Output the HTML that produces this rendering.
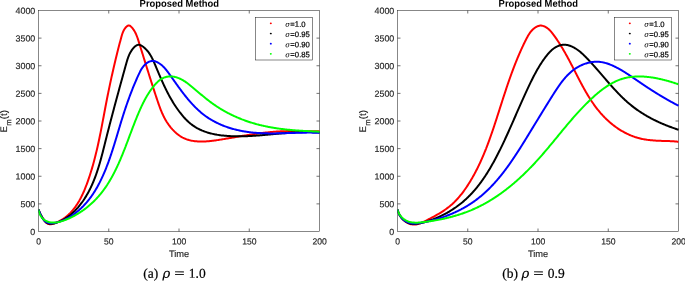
<!DOCTYPE html>
<html><head><meta charset="utf-8"><title>Proposed Method</title>
<style>
html,body{margin:0;padding:0;background:#fff}
svg{display:block}
text{font-family:"Liberation Sans",sans-serif;fill:#262626}
.tk{font-size:8.9px}
.lb{font-size:9.6px}
.tt{font-size:9.85px;font-weight:bold;fill:#000}
.tk,.lb{stroke:#262626;stroke-width:0.15px}
.lg{font-size:7.9px;fill:#000;stroke:#000;stroke-width:0.2px}
.sg{font-family:"DejaVu Serif",serif;font-style:italic;font-size:7.4px;stroke-width:0.02px}
.cp{font-family:"Liberation Serif",serif;font-size:13.5px;fill:#000;stroke:#000;stroke-width:0.2px}
.rho{font-family:"DejaVu Serif",serif;font-style:italic;font-size:13.2px;fill:#000;stroke:#000;stroke-width:0.15px}
.cv{fill:none;stroke-width:2;stroke-linejoin:round;stroke-linecap:butt}
</style></head><body>

<svg width="685" height="281" viewBox="0 0 685 281">

<rect width="685" height="281" fill="#fff"/>
<g>

<defs><clipPath id="cl"><rect x="38.5" y="10.5" width="282.0" height="221.0"/></clipPath><clipPath id="cr"><rect x="397.5" y="10.5" width="282.0" height="221.0"/></clipPath></defs>

<rect x="38.5" y="10.5" width="281.0" height="221.0" fill="#fff" stroke="#262626" stroke-width="0.55"/>
<path d="M108.75 231.5 v-3.0 M108.75 10.5 v3.0 M179.00 231.5 v-3.0 M179.00 10.5 v3.0 M249.25 231.5 v-3.0 M249.25 10.5 v3.0 M38.5 203.88 h3.0 M319.5 203.88 h-3.0 M38.5 176.25 h3.0 M319.5 176.25 h-3.0 M38.5 148.62 h3.0 M319.5 148.62 h-3.0 M38.5 121.00 h3.0 M319.5 121.00 h-3.0 M38.5 93.38 h3.0 M319.5 93.38 h-3.0 M38.5 65.75 h3.0 M319.5 65.75 h-3.0 M38.5 38.12 h3.0 M319.5 38.12 h-3.0" stroke="#262626" stroke-width="0.65" fill="none"/>
<text class="tk" transform="translate(38.60 244.50) matrix(0.97 0.002 0 1 0 0)" text-anchor="middle">0</text>
<text class="tk" transform="translate(108.85 244.50) matrix(0.97 0.002 0 1 0 0)" text-anchor="middle">50</text>
<text class="tk" transform="translate(179.10 244.50) matrix(0.97 0.002 0 1 0 0)" text-anchor="middle">100</text>
<text class="tk" transform="translate(249.35 244.50) matrix(0.97 0.002 0 1 0 0)" text-anchor="middle">150</text>
<text class="tk" transform="translate(319.60 244.50) matrix(0.97 0.002 0 1 0 0)" text-anchor="middle">200</text>
<text class="tk" transform="translate(35.30 234.90) matrix(1.0 0.002 0 1 0 0)" text-anchor="end">0</text>
<text class="tk" transform="translate(35.30 207.28) matrix(1.0 0.002 0 1 0 0)" text-anchor="end">500</text>
<text class="tk" transform="translate(35.30 179.65) matrix(1.0 0.002 0 1 0 0)" text-anchor="end">1000</text>
<text class="tk" transform="translate(35.30 152.03) matrix(1.0 0.002 0 1 0 0)" text-anchor="end">1500</text>
<text class="tk" transform="translate(35.30 124.40) matrix(1.0 0.002 0 1 0 0)" text-anchor="end">2000</text>
<text class="tk" transform="translate(35.30 96.78) matrix(1.0 0.002 0 1 0 0)" text-anchor="end">2500</text>
<text class="tk" transform="translate(35.30 69.15) matrix(1.0 0.002 0 1 0 0)" text-anchor="end">3000</text>
<text class="tk" transform="translate(35.30 41.52) matrix(1.0 0.002 0 1 0 0)" text-anchor="end">3500</text>
<text class="tk" transform="translate(35.30 13.90) matrix(1.0 0.002 0 1 0 0)" text-anchor="end">4000</text>
<text class="lb" transform="translate(179.10 257.00) matrix(1.0 0.002 0 1 0 0)" text-anchor="middle" style="font-size:9.3px">Time</text>
<text class="tt" transform="translate(179.30 6.80) matrix(0.955 0.002 0 1 0 0)" text-anchor="middle">Proposed Method</text>
<text class="lb" transform="translate(7.00 132.6) rotate(-90) matrix(1.0 0.002 0 1 0 0)">E<tspan dx="0.4" dy="4.3" font-size="7.9">m</tspan><tspan dy="-4.3">(t)</tspan></text>
<g clip-path="url(#cl)">
<path class="cv" stroke="#ff0000" d="M38.50 209.60 L38.89 210.65 L39.27 211.62 L39.67 212.52 L40.08 213.38 L40.50 214.20 L40.94 215.01 L41.41 215.83 L41.91 216.66 L42.44 217.53 L43.01 218.46 L43.63 219.43 L44.28 220.40 L44.98 221.34 L45.72 222.19 L46.51 222.93 L47.34 223.51 L48.22 223.91 L49.14 224.14 L50.09 224.24 L51.06 224.21 L52.05 224.07 L53.05 223.84 L54.05 223.53 L55.04 223.17 L56.03 222.78 L56.99 222.36 L57.94 221.92 L58.87 221.46 L59.78 220.98 L60.67 220.48 L61.55 219.96 L62.40 219.43 L63.24 218.88 L64.07 218.30 L64.88 217.72 L65.67 217.11 L66.44 216.49 L67.21 215.85 L67.95 215.20 L68.68 214.53 L69.39 213.84 L70.10 213.14 L70.78 212.43 L71.45 211.70 L72.11 210.96 L72.76 210.21 L73.39 209.44 L74.01 208.66 L74.61 207.87 L75.20 207.06 L75.78 206.25 L76.35 205.42 L76.91 204.59 L77.46 203.74 L77.99 202.89 L78.51 202.02 L79.03 201.15 L79.53 200.26 L80.02 199.37 L80.50 198.47 L80.98 197.57 L81.44 196.65 L81.89 195.73 L82.34 194.80 L82.78 193.87 L83.20 192.93 L83.62 191.99 L84.04 191.04 L84.44 190.08 L84.84 189.13 L85.23 188.16 L85.61 187.20 L85.99 186.23 L86.36 185.26 L86.73 184.29 L87.09 183.31 L87.44 182.34 L87.79 181.36 L88.13 180.38 L88.47 179.40 L88.81 178.42 L89.14 177.44 L89.46 176.46 L89.78 175.48 L90.10 174.50 L90.41 173.52 L90.72 172.54 L91.02 171.56 L91.32 170.58 L91.62 169.60 L91.91 168.62 L92.20 167.63 L92.49 166.65 L92.77 165.67 L93.05 164.68 L93.32 163.70 L93.59 162.72 L93.86 161.73 L94.12 160.75 L94.38 159.76 L94.64 158.78 L94.89 157.79 L95.15 156.81 L95.39 155.82 L95.64 154.83 L95.88 153.85 L96.12 152.86 L96.36 151.87 L96.59 150.89 L96.83 149.90 L97.05 148.91 L97.28 147.92 L97.51 146.93 L97.73 145.95 L97.95 144.96 L98.17 143.97 L98.38 142.98 L98.60 141.99 L98.81 141.00 L99.02 140.01 L99.23 139.02 L99.44 138.03 L99.64 137.04 L99.84 136.05 L100.05 135.06 L100.25 134.07 L100.45 133.08 L100.64 132.09 L100.84 131.09 L101.04 130.10 L101.23 129.11 L101.43 128.12 L101.62 127.13 L101.81 126.13 L102.00 125.14 L102.19 124.15 L102.38 123.16 L102.57 122.16 L102.76 121.17 L102.95 120.18 L103.13 119.18 L103.32 118.19 L103.51 117.20 L103.70 116.20 L103.88 115.21 L104.07 114.22 L104.26 113.22 L104.44 112.23 L104.63 111.23 L104.82 110.24 L105.01 109.25 L105.19 108.25 L105.38 107.26 L105.57 106.26 L105.76 105.27 L105.95 104.27 L106.14 103.28 L106.34 102.28 L106.53 101.29 L106.72 100.29 L106.92 99.30 L107.11 98.30 L107.31 97.31 L107.51 96.31 L107.71 95.32 L107.91 94.32 L108.11 93.33 L108.31 92.33 L108.52 91.33 L108.72 90.34 L108.93 89.34 L109.13 88.35 L109.34 87.35 L109.55 86.36 L109.76 85.36 L109.97 84.37 L110.18 83.37 L110.39 82.38 L110.61 81.38 L110.82 80.38 L111.04 79.39 L111.26 78.39 L111.47 77.40 L111.69 76.40 L111.91 75.41 L112.14 74.41 L112.36 73.42 L112.58 72.42 L112.81 71.43 L113.04 70.43 L113.26 69.44 L113.49 68.44 L113.72 67.45 L113.95 66.45 L114.18 65.46 L114.42 64.46 L114.65 63.47 L114.89 62.48 L115.13 61.48 L115.36 60.49 L115.60 59.49 L115.84 58.50 L116.08 57.51 L116.33 56.51 L116.57 55.52 L116.82 54.53 L117.06 53.53 L117.31 52.54 L117.56 51.55 L117.81 50.56 L118.06 49.56 L118.31 48.57 L118.57 47.58 L118.82 46.59 L119.08 45.59 L119.34 44.60 L119.60 43.61 L119.86 42.62 L120.12 41.63 L120.38 40.64 L120.64 39.65 L120.91 38.66 L121.17 37.67 L121.44 36.68 L121.72 35.69 L122.01 34.71 L122.33 33.74 L122.67 32.79 L123.05 31.84 L123.47 30.92 L123.94 30.02 L124.46 29.15 L125.04 28.30 L125.70 27.48 L126.42 26.70 L127.21 26.02 L128.04 25.55 L128.88 25.41 L129.70 25.65 L130.50 26.18 L131.27 26.88 L131.99 27.66 L132.66 28.46 L133.28 29.28 L133.87 30.13 L134.41 30.99 L134.91 31.88 L135.39 32.78 L135.83 33.69 L136.24 34.62 L136.63 35.56 L137.00 36.51 L137.35 37.47 L137.69 38.44 L138.02 39.41 L138.33 40.39 L138.64 41.37 L138.95 42.34 L139.25 43.32 L139.56 44.30 L139.87 45.28 L140.17 46.26 L140.48 47.24 L140.78 48.21 L141.09 49.19 L141.39 50.17 L141.69 51.14 L142.00 52.12 L142.30 53.09 L142.61 54.07 L142.91 55.04 L143.21 56.02 L143.51 56.99 L143.82 57.97 L144.12 58.94 L144.42 59.91 L144.73 60.89 L145.03 61.86 L145.33 62.83 L145.63 63.80 L145.94 64.77 L146.24 65.75 L146.54 66.72 L146.85 67.69 L147.15 68.66 L147.45 69.63 L147.76 70.60 L148.06 71.57 L148.37 72.54 L148.67 73.50 L148.98 74.47 L149.28 75.44 L149.59 76.41 L149.89 77.38 L150.20 78.34 L150.51 79.31 L150.81 80.28 L151.12 81.24 L151.43 82.21 L151.74 83.17 L152.05 84.14 L152.36 85.10 L152.67 86.07 L152.98 87.03 L153.29 88.00 L153.61 88.96 L153.92 89.92 L154.23 90.89 L154.55 91.85 L154.87 92.81 L155.18 93.77 L155.50 94.73 L155.82 95.70 L156.14 96.66 L156.46 97.62 L156.78 98.58 L157.10 99.54 L157.42 100.50 L157.75 101.46 L158.07 102.42 L158.40 103.37 L158.73 104.33 L159.07 105.28 L159.41 106.24 L159.76 107.19 L160.11 108.14 L160.48 109.09 L160.85 110.03 L161.22 110.97 L161.61 111.91 L162.01 112.84 L162.42 113.78 L162.85 114.70 L163.28 115.62 L163.73 116.54 L164.20 117.45 L164.68 118.36 L165.17 119.26 L165.68 120.16 L166.21 121.05 L166.76 121.94 L167.33 122.81 L167.91 123.68 L168.51 124.53 L169.12 125.38 L169.75 126.21 L170.40 127.03 L171.06 127.84 L171.74 128.63 L172.43 129.41 L173.14 130.16 L173.86 130.90 L174.59 131.62 L175.34 132.32 L176.10 133.00 L176.88 133.65 L177.67 134.29 L178.47 134.89 L179.29 135.48 L180.11 136.03 L180.95 136.56 L181.80 137.06 L182.66 137.53 L183.54 137.97 L184.42 138.38 L185.32 138.76 L186.22 139.12 L187.13 139.44 L188.06 139.74 L188.99 140.02 L189.93 140.27 L190.88 140.49 L191.84 140.69 L192.81 140.87 L193.78 141.02 L194.76 141.15 L195.74 141.27 L196.74 141.36 L197.74 141.43 L198.74 141.49 L199.75 141.52 L200.76 141.54 L201.78 141.55 L202.81 141.53 L203.83 141.51 L204.86 141.46 L205.90 141.41 L206.93 141.34 L207.97 141.26 L209.01 141.17 L210.05 141.07 L211.10 140.96 L212.14 140.84 L213.19 140.71 L214.23 140.57 L215.28 140.43 L216.33 140.28 L217.37 140.12 L218.41 139.96 L219.46 139.80 L220.50 139.63 L221.54 139.46 L222.57 139.29 L223.60 139.12 L224.63 138.95 L225.66 138.78 L226.69 138.60 L227.71 138.43 L228.73 138.26 L229.74 138.08 L230.76 137.91 L231.77 137.74 L232.78 137.56 L233.79 137.39 L234.79 137.22 L235.80 137.04 L236.80 136.87 L237.80 136.70 L238.80 136.53 L239.79 136.36 L240.79 136.20 L241.78 136.03 L242.78 135.86 L243.77 135.70 L244.76 135.54 L245.75 135.37 L246.74 135.21 L247.73 135.06 L248.71 134.90 L249.70 134.74 L250.69 134.59 L251.68 134.44 L252.66 134.29 L253.65 134.14 L254.63 134.00 L255.62 133.86 L256.61 133.72 L257.59 133.58 L258.58 133.45 L259.57 133.31 L260.55 133.18 L261.54 133.06 L262.53 132.93 L263.52 132.81 L264.51 132.70 L265.50 132.58 L266.50 132.47 L267.49 132.37 L268.49 132.26 L269.49 132.17 L270.48 132.07 L271.48 131.98 L272.49 131.89 L273.49 131.81 L274.50 131.73 L275.50 131.65 L276.51 131.58 L277.53 131.51 L278.54 131.45 L279.56 131.39 L280.58 131.34 L281.60 131.29 L282.62 131.25 L283.65 131.21 L284.68 131.18 L285.71 131.15 L286.75 131.12 L287.78 131.10 L288.82 131.09 L289.86 131.07 L290.90 131.07 L291.94 131.06 L292.99 131.06 L294.03 131.06 L295.07 131.06 L296.11 131.06 L297.16 131.07 L298.20 131.08 L299.24 131.09 L300.28 131.10 L301.31 131.11 L302.35 131.12 L303.38 131.14 L304.41 131.15 L305.44 131.16 L306.47 131.18 L307.49 131.19 L308.51 131.20 L309.52 131.21 L310.53 131.22 L311.54 131.23 L312.54 131.24 L313.54 131.25 L314.53 131.25 L315.52 131.25 L316.50 131.25 L317.48 131.24 L318.45 131.24 L319.41 131.23"/>
<path class="cv" stroke="#000000" d="M38.51 209.61 L38.77 210.24 L39.07 210.95 L39.39 211.72 L39.74 212.54 L40.12 213.41 L40.53 214.31 L40.97 215.23 L41.44 216.15 L41.93 217.07 L42.46 217.97 L43.02 218.85 L43.60 219.69 L44.22 220.48 L44.87 221.20 L45.55 221.85 L46.26 222.42 L47.00 222.90 L47.78 223.26 L48.58 223.52 L49.41 223.69 L50.26 223.77 L51.12 223.78 L52.00 223.72 L52.89 223.59 L53.78 223.42 L54.67 223.20 L55.55 222.95 L56.43 222.68 L57.30 222.39 L58.16 222.07 L59.01 221.74 L59.86 221.38 L60.69 221.01 L61.51 220.62 L62.33 220.21 L63.13 219.79 L63.93 219.34 L64.71 218.88 L65.49 218.41 L66.25 217.92 L67.01 217.41 L67.76 216.89 L68.50 216.35 L69.23 215.80 L69.95 215.24 L70.66 214.66 L71.37 214.07 L72.06 213.46 L72.74 212.85 L73.42 212.22 L74.08 211.58 L74.74 210.94 L75.39 210.28 L76.03 209.61 L76.66 208.93 L77.28 208.24 L77.89 207.55 L78.49 206.84 L79.08 206.13 L79.67 205.41 L80.24 204.69 L80.81 203.96 L81.37 203.22 L81.92 202.47 L82.45 201.72 L82.99 200.97 L83.51 200.21 L84.02 199.45 L84.52 198.68 L85.02 197.91 L85.51 197.14 L85.99 196.36 L86.46 195.58 L86.92 194.79 L87.37 194.00 L87.82 193.21 L88.26 192.41 L88.69 191.61 L89.12 190.81 L89.53 190.00 L89.94 189.19 L90.35 188.37 L90.74 187.56 L91.13 186.74 L91.52 185.91 L91.89 185.09 L92.26 184.26 L92.63 183.43 L92.99 182.59 L93.34 181.76 L93.68 180.92 L94.02 180.07 L94.36 179.23 L94.69 178.38 L95.01 177.53 L95.33 176.68 L95.65 175.83 L95.96 174.97 L96.26 174.11 L96.56 173.25 L96.86 172.39 L97.15 171.52 L97.44 170.66 L97.72 169.79 L98.00 168.92 L98.27 168.05 L98.54 167.17 L98.81 166.30 L99.08 165.42 L99.34 164.54 L99.60 163.67 L99.85 162.79 L100.10 161.90 L100.35 161.02 L100.60 160.14 L100.84 159.25 L101.09 158.37 L101.33 157.48 L101.56 156.60 L101.80 155.71 L102.03 154.82 L102.27 153.93 L102.50 153.04 L102.73 152.15 L102.95 151.26 L103.18 150.37 L103.41 149.48 L103.63 148.59 L103.85 147.70 L104.08 146.81 L104.30 145.91 L104.52 145.02 L104.74 144.13 L104.97 143.24 L105.19 142.35 L105.41 141.46 L105.63 140.57 L105.85 139.68 L106.08 138.79 L106.30 137.90 L106.53 137.01 L106.75 136.13 L106.97 135.24 L107.20 134.35 L107.42 133.47 L107.65 132.58 L107.88 131.69 L108.10 130.81 L108.33 129.92 L108.56 129.04 L108.79 128.15 L109.01 127.27 L109.24 126.39 L109.47 125.50 L109.70 124.62 L109.93 123.74 L110.16 122.85 L110.39 121.97 L110.62 121.09 L110.85 120.21 L111.08 119.32 L111.32 118.44 L111.55 117.56 L111.78 116.68 L112.01 115.80 L112.25 114.92 L112.48 114.04 L112.71 113.15 L112.95 112.27 L113.18 111.39 L113.42 110.51 L113.65 109.63 L113.89 108.75 L114.12 107.87 L114.36 106.99 L114.59 106.11 L114.83 105.23 L115.07 104.35 L115.30 103.47 L115.54 102.59 L115.78 101.71 L116.02 100.83 L116.25 99.95 L116.49 99.07 L116.73 98.19 L116.97 97.31 L117.21 96.43 L117.45 95.55 L117.69 94.67 L117.93 93.79 L118.17 92.90 L118.41 92.02 L118.65 91.14 L118.89 90.26 L119.13 89.38 L119.37 88.50 L119.61 87.61 L119.86 86.73 L120.10 85.85 L120.34 84.97 L120.58 84.08 L120.82 83.20 L121.07 82.32 L121.31 81.43 L121.55 80.55 L121.80 79.66 L122.04 78.78 L122.28 77.89 L122.53 77.01 L122.77 76.12 L123.02 75.24 L123.26 74.35 L123.51 73.46 L123.75 72.57 L124.00 71.69 L124.24 70.80 L124.49 69.91 L124.73 69.02 L124.98 68.13 L125.22 67.24 L125.47 66.35 L125.72 65.46 L125.96 64.57 L126.21 63.68 L126.46 62.78 L126.71 61.90 L126.98 61.01 L127.25 60.13 L127.52 59.25 L127.82 58.37 L128.12 57.51 L128.44 56.65 L128.78 55.79 L129.14 54.95 L129.52 54.12 L129.92 53.29 L130.35 52.48 L130.81 51.68 L131.29 50.90 L131.80 50.13 L132.35 49.37 L132.93 48.63 L133.55 47.91 L134.20 47.21 L134.89 46.56 L135.61 45.98 L136.35 45.48 L137.12 45.10 L137.91 44.86 L138.71 44.78 L139.53 44.87 L140.35 45.12 L141.16 45.49 L141.97 45.96 L142.76 46.50 L143.52 47.08 L144.25 47.68 L144.95 48.30 L145.62 48.94 L146.27 49.60 L146.89 50.28 L147.49 50.98 L148.06 51.69 L148.61 52.42 L149.14 53.17 L149.65 53.93 L150.15 54.70 L150.62 55.48 L151.08 56.28 L151.52 57.09 L151.95 57.90 L152.37 58.72 L152.78 59.55 L153.17 60.39 L153.56 61.24 L153.94 62.08 L154.31 62.93 L154.68 63.79 L155.05 64.65 L155.41 65.50 L155.77 66.36 L156.12 67.22 L156.48 68.07 L156.84 68.93 L157.20 69.78 L157.56 70.63 L157.91 71.48 L158.27 72.33 L158.63 73.18 L158.99 74.03 L159.35 74.87 L159.72 75.72 L160.08 76.56 L160.44 77.40 L160.81 78.24 L161.18 79.08 L161.54 79.91 L161.92 80.75 L162.29 81.58 L162.66 82.41 L163.04 83.24 L163.42 84.06 L163.80 84.89 L164.18 85.71 L164.57 86.53 L164.96 87.34 L165.35 88.16 L165.74 88.97 L166.14 89.78 L166.54 90.59 L166.95 91.39 L167.35 92.19 L167.77 92.99 L168.18 93.79 L168.60 94.59 L169.03 95.38 L169.46 96.17 L169.89 96.96 L170.33 97.74 L170.77 98.52 L171.22 99.31 L171.67 100.08 L172.13 100.86 L172.60 101.63 L173.07 102.40 L173.54 103.17 L174.03 103.94 L174.52 104.71 L175.01 105.47 L175.51 106.23 L176.02 106.99 L176.54 107.74 L177.06 108.50 L177.59 109.25 L178.13 110.00 L178.68 110.75 L179.23 111.50 L179.79 112.24 L180.36 112.98 L180.94 113.72 L181.53 114.45 L182.12 115.18 L182.72 115.90 L183.33 116.61 L183.95 117.31 L184.58 118.01 L185.22 118.70 L185.86 119.37 L186.52 120.04 L187.18 120.69 L187.85 121.33 L188.53 121.96 L189.22 122.57 L189.92 123.17 L190.63 123.76 L191.35 124.32 L192.07 124.87 L192.81 125.41 L193.56 125.92 L194.31 126.42 L195.07 126.91 L195.84 127.38 L196.62 127.83 L197.40 128.27 L198.20 128.69 L199.00 129.10 L199.80 129.50 L200.62 129.88 L201.44 130.24 L202.27 130.60 L203.10 130.93 L203.94 131.26 L204.79 131.57 L205.64 131.87 L206.50 132.16 L207.36 132.44 L208.23 132.70 L209.10 132.95 L209.97 133.19 L210.85 133.42 L211.74 133.64 L212.63 133.85 L213.52 134.05 L214.42 134.23 L215.31 134.41 L216.22 134.58 L217.12 134.74 L218.03 134.88 L218.94 135.02 L219.85 135.15 L220.76 135.28 L221.68 135.39 L222.60 135.50 L223.51 135.60 L224.43 135.69 L225.35 135.77 L226.28 135.85 L227.20 135.92 L228.12 135.98 L229.04 136.04 L229.96 136.09 L230.88 136.14 L231.80 136.18 L232.72 136.21 L233.64 136.24 L234.56 136.27 L235.48 136.29 L236.40 136.30 L237.32 136.31 L238.23 136.32 L239.15 136.32 L240.07 136.31 L240.98 136.30 L241.90 136.29 L242.81 136.27 L243.73 136.25 L244.64 136.23 L245.56 136.20 L246.47 136.17 L247.38 136.13 L248.30 136.09 L249.21 136.05 L250.12 136.01 L251.03 135.96 L251.95 135.91 L252.86 135.85 L253.77 135.80 L254.68 135.74 L255.59 135.68 L256.50 135.61 L257.41 135.55 L258.32 135.48 L259.24 135.41 L260.15 135.33 L261.06 135.26 L261.97 135.19 L262.88 135.11 L263.79 135.03 L264.70 134.95 L265.61 134.87 L266.51 134.79 L267.42 134.71 L268.33 134.62 L269.24 134.54 L270.15 134.46 L271.06 134.37 L271.97 134.29 L272.88 134.20 L273.79 134.12 L274.70 134.03 L275.61 133.95 L276.52 133.86 L277.43 133.78 L278.34 133.70 L279.25 133.61 L280.16 133.53 L281.07 133.45 L281.98 133.37 L282.89 133.29 L283.80 133.22 L284.71 133.14 L285.62 133.07 L286.53 132.99 L287.44 132.92 L288.35 132.85 L289.26 132.79 L290.18 132.72 L291.09 132.66 L292.00 132.60 L292.91 132.54 L293.83 132.48 L294.74 132.43 L295.65 132.38 L296.57 132.34 L297.48 132.29 L298.39 132.25 L299.31 132.22 L300.22 132.18 L301.14 132.15 L302.06 132.13 L302.97 132.10 L303.89 132.09 L304.81 132.07 L305.72 132.06 L306.64 132.06 L307.56 132.05 L308.48 132.06 L309.40 132.07 L310.32 132.08 L311.24 132.10 L312.16 132.12 L313.08 132.15 L314.00 132.18 L314.92 132.22 L315.85 132.26 L316.77 132.31 L317.69 132.37 L318.62 132.43 L319.54 132.49"/>
<path class="cv" stroke="#0000ff" d="M38.51 209.60 L38.72 210.25 L38.97 210.95 L39.25 211.68 L39.56 212.45 L39.89 213.24 L40.26 214.05 L40.66 214.87 L41.08 215.69 L41.53 216.50 L42.01 217.30 L42.52 218.08 L43.06 218.82 L43.62 219.53 L44.21 220.20 L44.82 220.82 L45.46 221.37 L46.13 221.86 L46.82 222.27 L47.54 222.60 L48.28 222.85 L49.04 223.03 L49.81 223.13 L50.60 223.18 L51.40 223.18 L52.21 223.13 L53.02 223.05 L53.83 222.94 L54.63 222.82 L55.44 222.67 L56.24 222.50 L57.04 222.32 L57.84 222.12 L58.63 221.90 L59.42 221.66 L60.21 221.41 L60.99 221.14 L61.77 220.86 L62.55 220.55 L63.32 220.24 L64.09 219.91 L64.85 219.56 L65.61 219.20 L66.36 218.83 L67.11 218.44 L67.85 218.04 L68.59 217.63 L69.33 217.20 L70.05 216.76 L70.78 216.32 L71.49 215.86 L72.20 215.39 L72.91 214.91 L73.61 214.41 L74.30 213.91 L74.98 213.40 L75.66 212.89 L76.33 212.36 L77.00 211.82 L77.66 211.28 L78.31 210.73 L78.95 210.18 L79.59 209.61 L80.21 209.04 L80.83 208.47 L81.45 207.89 L82.05 207.30 L82.64 206.71 L83.23 206.12 L83.81 205.51 L84.38 204.91 L84.95 204.30 L85.50 203.68 L86.05 203.06 L86.60 202.44 L87.13 201.81 L87.66 201.18 L88.18 200.54 L88.69 199.90 L89.20 199.25 L89.70 198.60 L90.19 197.95 L90.68 197.29 L91.16 196.63 L91.64 195.96 L92.11 195.29 L92.57 194.62 L93.03 193.94 L93.48 193.25 L93.92 192.57 L94.36 191.88 L94.79 191.19 L95.22 190.49 L95.65 189.79 L96.06 189.09 L96.48 188.38 L96.88 187.67 L97.29 186.96 L97.69 186.24 L98.08 185.52 L98.47 184.80 L98.85 184.08 L99.23 183.35 L99.61 182.62 L99.98 181.89 L100.35 181.15 L100.71 180.41 L101.07 179.67 L101.43 178.93 L101.78 178.18 L102.13 177.43 L102.47 176.68 L102.82 175.93 L103.15 175.17 L103.49 174.41 L103.82 173.65 L104.15 172.89 L104.47 172.13 L104.79 171.36 L105.11 170.59 L105.43 169.82 L105.74 169.05 L106.05 168.28 L106.36 167.50 L106.66 166.72 L106.96 165.95 L107.26 165.16 L107.56 164.38 L107.85 163.60 L108.14 162.81 L108.43 162.03 L108.72 161.24 L109.00 160.45 L109.28 159.66 L109.56 158.86 L109.84 158.07 L110.12 157.28 L110.39 156.48 L110.66 155.68 L110.93 154.89 L111.20 154.09 L111.46 153.29 L111.73 152.49 L111.99 151.68 L112.25 150.88 L112.51 150.08 L112.77 149.27 L113.02 148.47 L113.28 147.66 L113.53 146.86 L113.79 146.05 L114.04 145.25 L114.29 144.44 L114.54 143.63 L114.79 142.82 L115.03 142.02 L115.28 141.21 L115.53 140.40 L115.77 139.59 L116.02 138.78 L116.26 137.97 L116.50 137.16 L116.75 136.36 L116.99 135.55 L117.23 134.74 L117.47 133.93 L117.71 133.12 L117.96 132.32 L118.20 131.51 L118.44 130.70 L118.68 129.89 L118.92 129.09 L119.16 128.28 L119.40 127.48 L119.65 126.67 L119.89 125.87 L120.13 125.07 L120.37 124.27 L120.62 123.46 L120.86 122.66 L121.10 121.86 L121.35 121.07 L121.60 120.27 L121.84 119.47 L122.09 118.68 L122.34 117.88 L122.59 117.09 L122.84 116.30 L123.09 115.51 L123.34 114.72 L123.60 113.93 L123.85 113.14 L124.11 112.35 L124.36 111.56 L124.62 110.78 L124.88 109.99 L125.14 109.21 L125.40 108.42 L125.66 107.64 L125.93 106.86 L126.19 106.08 L126.46 105.29 L126.73 104.51 L127.00 103.74 L127.27 102.96 L127.55 102.18 L127.82 101.40 L128.10 100.62 L128.38 99.85 L128.66 99.07 L128.94 98.29 L129.22 97.52 L129.51 96.74 L129.80 95.97 L130.09 95.19 L130.38 94.42 L130.67 93.65 L130.97 92.87 L131.26 92.10 L131.56 91.33 L131.86 90.56 L132.17 89.79 L132.47 89.01 L132.78 88.24 L133.09 87.47 L133.41 86.70 L133.72 85.93 L134.04 85.16 L134.36 84.39 L134.68 83.62 L135.01 82.85 L135.33 82.08 L135.66 81.30 L136.00 80.53 L136.33 79.76 L136.67 78.99 L137.01 78.22 L137.36 77.45 L137.70 76.68 L138.05 75.91 L138.40 75.14 L138.76 74.37 L139.12 73.60 L139.49 72.83 L139.86 72.07 L140.25 71.31 L140.64 70.57 L141.06 69.83 L141.49 69.11 L141.93 68.40 L142.40 67.70 L142.89 67.02 L143.40 66.36 L143.93 65.73 L144.50 65.11 L145.09 64.52 L145.72 63.95 L146.37 63.41 L147.06 62.91 L147.77 62.45 L148.50 62.03 L149.26 61.68 L150.03 61.38 L150.81 61.16 L151.61 61.02 L152.41 60.96 L153.21 60.98 L154.02 61.09 L154.82 61.27 L155.62 61.51 L156.41 61.81 L157.19 62.17 L157.96 62.57 L158.71 63.01 L159.44 63.48 L160.15 63.98 L160.84 64.49 L161.50 65.02 L162.14 65.57 L162.75 66.13 L163.35 66.70 L163.93 67.29 L164.49 67.88 L165.04 68.49 L165.57 69.11 L166.09 69.74 L166.60 70.37 L167.10 71.02 L167.59 71.66 L168.08 72.32 L168.56 72.98 L169.04 73.64 L169.52 74.31 L169.99 74.98 L170.47 75.65 L170.95 76.33 L171.43 77.00 L171.91 77.68 L172.39 78.36 L172.87 79.04 L173.35 79.72 L173.83 80.40 L174.31 81.08 L174.80 81.77 L175.28 82.45 L175.77 83.14 L176.26 83.82 L176.75 84.50 L177.24 85.19 L177.73 85.87 L178.22 86.56 L178.72 87.24 L179.22 87.92 L179.72 88.60 L180.22 89.28 L180.72 89.96 L181.23 90.64 L181.73 91.32 L182.24 91.99 L182.76 92.67 L183.27 93.34 L183.79 94.01 L184.31 94.67 L184.83 95.34 L185.36 96.00 L185.88 96.66 L186.42 97.32 L186.95 97.97 L187.49 98.62 L188.03 99.27 L188.57 99.92 L189.12 100.56 L189.67 101.19 L190.22 101.83 L190.78 102.46 L191.34 103.08 L191.90 103.70 L192.47 104.32 L193.04 104.93 L193.62 105.54 L194.20 106.14 L194.78 106.73 L195.37 107.33 L195.96 107.91 L196.56 108.49 L197.16 109.07 L197.76 109.64 L198.37 110.20 L198.99 110.76 L199.61 111.31 L200.23 111.85 L200.86 112.39 L201.49 112.92 L202.13 113.45 L202.77 113.96 L203.42 114.47 L204.08 114.98 L204.74 115.47 L205.40 115.96 L206.07 116.44 L206.75 116.91 L207.43 117.38 L208.11 117.84 L208.80 118.29 L209.50 118.73 L210.20 119.16 L210.91 119.59 L211.62 120.01 L212.33 120.42 L213.05 120.83 L213.77 121.23 L214.50 121.62 L215.23 122.00 L215.97 122.38 L216.71 122.75 L217.45 123.11 L218.20 123.47 L218.95 123.81 L219.71 124.16 L220.46 124.49 L221.23 124.82 L221.99 125.14 L222.76 125.45 L223.53 125.76 L224.31 126.06 L225.08 126.35 L225.87 126.64 L226.65 126.92 L227.44 127.19 L228.22 127.46 L229.02 127.72 L229.81 127.97 L230.61 128.22 L231.41 128.46 L232.21 128.69 L233.01 128.92 L233.81 129.14 L234.62 129.35 L235.43 129.56 L236.24 129.76 L237.05 129.96 L237.87 130.15 L238.68 130.33 L239.50 130.51 L240.32 130.68 L241.14 130.85 L241.96 131.00 L242.78 131.16 L243.60 131.30 L244.42 131.45 L245.25 131.58 L246.07 131.71 L246.90 131.83 L247.72 131.95 L248.55 132.06 L249.38 132.17 L250.20 132.27 L251.03 132.37 L251.86 132.46 L252.69 132.55 L253.52 132.63 L254.35 132.70 L255.18 132.78 L256.01 132.84 L256.85 132.91 L257.68 132.97 L258.51 133.02 L259.34 133.07 L260.18 133.12 L261.01 133.16 L261.85 133.20 L262.68 133.23 L263.52 133.26 L264.35 133.29 L265.19 133.32 L266.03 133.34 L266.86 133.36 L267.70 133.37 L268.54 133.38 L269.37 133.39 L270.21 133.40 L271.05 133.40 L271.89 133.40 L272.72 133.40 L273.56 133.40 L274.40 133.40 L275.24 133.39 L276.08 133.38 L276.92 133.37 L277.76 133.35 L278.60 133.34 L279.43 133.32 L280.27 133.30 L281.11 133.29 L281.95 133.27 L282.79 133.24 L283.63 133.22 L284.47 133.20 L285.31 133.17 L286.15 133.15 L286.98 133.12 L287.82 133.10 L288.66 133.07 L289.50 133.05 L290.34 133.02 L291.18 132.99 L292.01 132.97 L292.85 132.94 L293.69 132.91 L294.53 132.89 L295.36 132.86 L296.20 132.84 L297.04 132.81 L297.87 132.79 L298.71 132.77 L299.54 132.75 L300.38 132.73 L301.21 132.71 L302.05 132.69 L302.88 132.67 L303.72 132.66 L304.55 132.65 L305.38 132.64 L306.21 132.63 L307.04 132.62 L307.88 132.62 L308.71 132.61 L309.54 132.61 L310.37 132.62 L311.20 132.62 L312.02 132.63 L312.85 132.64 L313.68 132.65 L314.51 132.67 L315.33 132.69 L316.16 132.71 L316.98 132.73 L317.81 132.76 L318.63 132.79 L319.45 132.83"/>
<path class="cv" stroke="#00ff00" d="M38.49 209.54 L38.67 210.49 L38.89 211.41 L39.15 212.28 L39.43 213.12 L39.75 213.92 L40.10 214.67 L40.47 215.40 L40.88 216.08 L41.31 216.73 L41.77 217.34 L42.25 217.92 L42.75 218.46 L43.28 218.96 L43.83 219.43 L44.40 219.87 L44.99 220.27 L45.59 220.64 L46.21 220.97 L46.85 221.28 L47.50 221.55 L48.16 221.79 L48.84 221.99 L49.53 222.17 L50.22 222.32 L50.93 222.43 L51.64 222.52 L52.36 222.58 L53.08 222.61 L53.81 222.61 L54.54 222.59 L55.28 222.54 L56.02 222.47 L56.76 222.37 L57.50 222.25 L58.25 222.11 L59.00 221.96 L59.75 221.78 L60.50 221.58 L61.25 221.37 L62.00 221.14 L62.75 220.90 L63.50 220.64 L64.25 220.37 L64.99 220.09 L65.74 219.80 L66.48 219.50 L67.21 219.19 L67.94 218.87 L68.67 218.55 L69.39 218.22 L70.11 217.88 L70.82 217.54 L71.53 217.20 L72.24 216.84 L72.94 216.49 L73.63 216.12 L74.32 215.75 L75.01 215.38 L75.69 215.00 L76.36 214.61 L77.03 214.22 L77.70 213.82 L78.36 213.42 L79.02 213.01 L79.67 212.60 L80.32 212.18 L80.96 211.76 L81.60 211.33 L82.23 210.90 L82.86 210.46 L83.48 210.02 L84.10 209.57 L84.72 209.11 L85.33 208.66 L85.93 208.19 L86.53 207.73 L87.13 207.25 L87.72 206.78 L88.31 206.29 L88.89 205.81 L89.47 205.32 L90.04 204.82 L90.61 204.32 L91.17 203.82 L91.73 203.31 L92.28 202.79 L92.83 202.28 L93.37 201.75 L93.91 201.23 L94.45 200.70 L94.98 200.16 L95.50 199.63 L96.02 199.08 L96.54 198.54 L97.05 197.99 L97.55 197.43 L98.05 196.87 L98.55 196.31 L99.04 195.74 L99.53 195.17 L100.01 194.60 L100.49 194.02 L100.96 193.44 L101.43 192.86 L101.89 192.27 L102.35 191.68 L102.81 191.08 L103.26 190.48 L103.70 189.88 L104.14 189.28 L104.58 188.67 L105.01 188.06 L105.44 187.44 L105.87 186.83 L106.29 186.20 L106.70 185.58 L107.12 184.95 L107.52 184.32 L107.93 183.69 L108.33 183.05 L108.73 182.41 L109.12 181.77 L109.51 181.13 L109.90 180.48 L110.28 179.83 L110.66 179.18 L111.04 178.53 L111.41 177.87 L111.78 177.21 L112.15 176.55 L112.51 175.88 L112.87 175.21 L113.23 174.54 L113.58 173.87 L113.93 173.20 L114.28 172.52 L114.63 171.84 L114.97 171.16 L115.31 170.48 L115.65 169.80 L115.98 169.11 L116.31 168.42 L116.64 167.73 L116.97 167.04 L117.30 166.35 L117.62 165.65 L117.94 164.95 L118.26 164.26 L118.57 163.55 L118.88 162.85 L119.20 162.15 L119.51 161.44 L119.81 160.74 L120.12 160.03 L120.42 159.32 L120.72 158.61 L121.02 157.90 L121.32 157.19 L121.62 156.47 L121.92 155.76 L122.21 155.04 L122.50 154.32 L122.79 153.60 L123.08 152.88 L123.37 152.16 L123.66 151.44 L123.94 150.72 L124.23 150.00 L124.51 149.27 L124.79 148.55 L125.07 147.83 L125.36 147.10 L125.63 146.37 L125.91 145.65 L126.19 144.92 L126.47 144.19 L126.75 143.47 L127.02 142.74 L127.30 142.01 L127.57 141.28 L127.85 140.55 L128.12 139.82 L128.40 139.09 L128.67 138.36 L128.94 137.64 L129.22 136.91 L129.49 136.18 L129.76 135.45 L130.04 134.72 L130.31 133.99 L130.58 133.26 L130.86 132.53 L131.13 131.81 L131.40 131.08 L131.68 130.35 L131.95 129.62 L132.23 128.90 L132.50 128.17 L132.78 127.45 L133.06 126.72 L133.33 126.00 L133.61 125.28 L133.89 124.55 L134.17 123.83 L134.45 123.11 L134.73 122.39 L135.02 121.67 L135.30 120.96 L135.59 120.24 L135.87 119.52 L136.16 118.81 L136.45 118.09 L136.74 117.38 L137.03 116.67 L137.32 115.96 L137.61 115.25 L137.91 114.55 L138.21 113.84 L138.51 113.14 L138.81 112.43 L139.11 111.73 L139.41 111.03 L139.72 110.33 L140.03 109.64 L140.34 108.94 L140.65 108.25 L140.96 107.56 L141.28 106.87 L141.60 106.18 L141.92 105.50 L142.25 104.81 L142.58 104.13 L142.91 103.45 L143.25 102.77 L143.59 102.10 L143.94 101.42 L144.28 100.75 L144.64 100.08 L145.00 99.41 L145.36 98.75 L145.73 98.08 L146.10 97.42 L146.48 96.76 L146.87 96.11 L147.26 95.45 L147.65 94.80 L148.05 94.15 L148.46 93.50 L148.88 92.85 L149.30 92.21 L149.73 91.56 L150.16 90.93 L150.61 90.29 L151.06 89.65 L151.52 89.02 L151.98 88.39 L152.46 87.76 L152.94 87.14 L153.43 86.52 L153.93 85.90 L154.43 85.29 L154.95 84.69 L155.48 84.10 L156.01 83.52 L156.56 82.96 L157.11 82.40 L157.68 81.87 L158.25 81.35 L158.84 80.84 L159.43 80.36 L160.04 79.90 L160.66 79.46 L161.29 79.05 L161.93 78.67 L162.59 78.31 L163.25 77.98 L163.93 77.68 L164.62 77.41 L165.31 77.17 L166.02 76.96 L166.74 76.78 L167.46 76.64 L168.19 76.52 L168.92 76.44 L169.66 76.39 L170.40 76.38 L171.15 76.40 L171.89 76.44 L172.64 76.52 L173.39 76.63 L174.14 76.77 L174.88 76.93 L175.63 77.12 L176.37 77.33 L177.11 77.57 L177.85 77.83 L178.58 78.12 L179.31 78.42 L180.03 78.74 L180.74 79.09 L181.45 79.44 L182.15 79.82 L182.84 80.21 L183.52 80.61 L184.20 81.03 L184.86 81.46 L185.52 81.90 L186.17 82.35 L186.81 82.80 L187.45 83.27 L188.08 83.75 L188.71 84.23 L189.33 84.71 L189.94 85.21 L190.55 85.70 L191.16 86.20 L191.77 86.70 L192.37 87.20 L192.97 87.70 L193.56 88.20 L194.16 88.70 L194.75 89.20 L195.34 89.70 L195.93 90.20 L196.52 90.70 L197.11 91.19 L197.70 91.69 L198.28 92.18 L198.87 92.67 L199.45 93.16 L200.04 93.65 L200.62 94.14 L201.20 94.63 L201.79 95.11 L202.37 95.59 L202.95 96.08 L203.54 96.55 L204.12 97.03 L204.71 97.51 L205.29 97.98 L205.88 98.45 L206.47 98.92 L207.06 99.39 L207.65 99.85 L208.24 100.31 L208.84 100.77 L209.43 101.22 L210.03 101.68 L210.63 102.13 L211.24 102.58 L211.84 103.02 L212.45 103.46 L213.06 103.90 L213.67 104.33 L214.29 104.76 L214.91 105.19 L215.54 105.62 L216.16 106.04 L216.79 106.46 L217.43 106.87 L218.06 107.28 L218.70 107.69 L219.35 108.09 L219.99 108.49 L220.64 108.89 L221.29 109.28 L221.95 109.67 L222.60 110.05 L223.27 110.44 L223.93 110.82 L224.59 111.19 L225.26 111.56 L225.93 111.93 L226.61 112.29 L227.28 112.65 L227.96 113.01 L228.64 113.36 L229.33 113.71 L230.01 114.06 L230.70 114.40 L231.39 114.74 L232.09 115.07 L232.78 115.40 L233.48 115.73 L234.18 116.05 L234.88 116.37 L235.58 116.69 L236.29 117.00 L236.99 117.31 L237.70 117.61 L238.41 117.91 L239.12 118.21 L239.84 118.50 L240.55 118.79 L241.27 119.07 L241.99 119.36 L242.71 119.63 L243.43 119.91 L244.15 120.18 L244.88 120.44 L245.60 120.70 L246.33 120.96 L247.06 121.22 L247.78 121.47 L248.51 121.71 L249.25 121.95 L249.98 122.19 L250.71 122.43 L251.44 122.66 L252.18 122.88 L252.91 123.10 L253.65 123.32 L254.39 123.54 L255.13 123.75 L255.86 123.95 L256.60 124.16 L257.34 124.35 L258.08 124.55 L258.82 124.74 L259.57 124.93 L260.31 125.11 L261.05 125.29 L261.80 125.47 L262.54 125.64 L263.28 125.81 L264.03 125.97 L264.78 126.14 L265.52 126.29 L266.27 126.45 L267.02 126.60 L267.76 126.75 L268.51 126.90 L269.26 127.04 L270.01 127.18 L270.76 127.31 L271.51 127.45 L272.26 127.58 L273.02 127.70 L273.77 127.83 L274.52 127.95 L275.27 128.07 L276.03 128.18 L276.78 128.30 L277.54 128.41 L278.29 128.52 L279.05 128.62 L279.80 128.72 L280.56 128.83 L281.32 128.92 L282.07 129.02 L282.83 129.11 L283.59 129.20 L284.35 129.29 L285.11 129.38 L285.87 129.46 L286.63 129.54 L287.39 129.62 L288.15 129.70 L288.91 129.78 L289.67 129.85 L290.43 129.92 L291.19 129.99 L291.95 130.06 L292.71 130.13 L293.48 130.19 L294.24 130.26 L295.00 130.32 L295.76 130.38 L296.53 130.44 L297.29 130.49 L298.06 130.55 L298.82 130.60 L299.58 130.66 L300.35 130.71 L301.11 130.76 L301.88 130.81 L302.64 130.85 L303.41 130.90 L304.18 130.95 L304.94 130.99 L305.71 131.03 L306.47 131.08 L307.24 131.12 L308.01 131.16 L308.77 131.20 L309.54 131.24 L310.31 131.28 L311.07 131.31 L311.84 131.35 L312.61 131.39 L313.38 131.42 L314.14 131.46 L314.91 131.49 L315.68 131.53 L316.45 131.56 L317.21 131.59 L317.98 131.63 L318.75 131.66 L319.52 131.69"/>
</g>
<rect x="255.5" y="17.4" width="57" height="42.6" fill="#fff" stroke="#262626" stroke-width="0.55"/>
<ellipse cx="270.80" cy="23.35" rx="1.0" ry="0.85" fill="#ff0000"/>
<text class="lg" transform="translate(285.30 26.85) matrix(0.975 0.002 0 1 0 0)" text-anchor="start"><tspan class="sg">σ</tspan><tspan dx="0.15">=1.0</tspan></text>
<ellipse cx="270.80" cy="33.50" rx="1.0" ry="0.85" fill="#000000"/>
<text class="lg" transform="translate(285.30 37.00) matrix(0.975 0.002 0 1 0 0)" text-anchor="start"><tspan class="sg">σ</tspan><tspan dx="0.15">=0.95</tspan></text>
<ellipse cx="270.80" cy="43.65" rx="1.0" ry="0.85" fill="#0000ff"/>
<text class="lg" transform="translate(285.30 47.15) matrix(0.975 0.002 0 1 0 0)" text-anchor="start"><tspan class="sg">σ</tspan><tspan dx="0.15">=0.90</tspan></text>
<ellipse cx="270.80" cy="53.80" rx="1.0" ry="0.85" fill="#00ff00"/>
<text class="lg" transform="translate(285.30 57.30) matrix(0.975 0.002 0 1 0 0)" text-anchor="start"><tspan class="sg">σ</tspan><tspan dx="0.15">=0.85</tspan></text>
<text class="cp" transform="translate(143.30 277.8) matrix(1 0.002 0 1 0 0)">(a)</text><text class="rho" transform="translate(162.60 277.8) matrix(1 0.002 0 1 0 0)">ρ</text><text class="cp" transform="translate(174.20 277.8) matrix(1 0.002 0 1 0 0)" textLength="10.4" lengthAdjust="spacingAndGlyphs">=</text><text class="cp" transform="translate(188.80 277.8) matrix(1 0.002 0 1 0 0)">1.0</text>
<rect x="397.5" y="10.5" width="281.0" height="221.0" fill="#fff" stroke="#262626" stroke-width="0.55"/>
<path d="M467.75 231.5 v-3.0 M467.75 10.5 v3.0 M538.00 231.5 v-3.0 M538.00 10.5 v3.0 M608.25 231.5 v-3.0 M608.25 10.5 v3.0 M397.5 203.88 h3.0 M678.5 203.88 h-3.0 M397.5 176.25 h3.0 M678.5 176.25 h-3.0 M397.5 148.62 h3.0 M678.5 148.62 h-3.0 M397.5 121.00 h3.0 M678.5 121.00 h-3.0 M397.5 93.38 h3.0 M678.5 93.38 h-3.0 M397.5 65.75 h3.0 M678.5 65.75 h-3.0 M397.5 38.12 h3.0 M678.5 38.12 h-3.0" stroke="#262626" stroke-width="0.65" fill="none"/>
<text class="tk" transform="translate(397.60 244.50) matrix(0.97 0.002 0 1 0 0)" text-anchor="middle">0</text>
<text class="tk" transform="translate(467.85 244.50) matrix(0.97 0.002 0 1 0 0)" text-anchor="middle">50</text>
<text class="tk" transform="translate(538.10 244.50) matrix(0.97 0.002 0 1 0 0)" text-anchor="middle">100</text>
<text class="tk" transform="translate(608.35 244.50) matrix(0.97 0.002 0 1 0 0)" text-anchor="middle">150</text>
<text class="tk" transform="translate(678.60 244.50) matrix(0.97 0.002 0 1 0 0)" text-anchor="middle">200</text>
<text class="tk" transform="translate(394.30 234.90) matrix(1.0 0.002 0 1 0 0)" text-anchor="end">0</text>
<text class="tk" transform="translate(394.30 207.28) matrix(1.0 0.002 0 1 0 0)" text-anchor="end">500</text>
<text class="tk" transform="translate(394.30 179.65) matrix(1.0 0.002 0 1 0 0)" text-anchor="end">1000</text>
<text class="tk" transform="translate(394.30 152.03) matrix(1.0 0.002 0 1 0 0)" text-anchor="end">1500</text>
<text class="tk" transform="translate(394.30 124.40) matrix(1.0 0.002 0 1 0 0)" text-anchor="end">2000</text>
<text class="tk" transform="translate(394.30 96.78) matrix(1.0 0.002 0 1 0 0)" text-anchor="end">2500</text>
<text class="tk" transform="translate(394.30 69.15) matrix(1.0 0.002 0 1 0 0)" text-anchor="end">3000</text>
<text class="tk" transform="translate(394.30 41.52) matrix(1.0 0.002 0 1 0 0)" text-anchor="end">3500</text>
<text class="tk" transform="translate(394.30 13.90) matrix(1.0 0.002 0 1 0 0)" text-anchor="end">4000</text>
<text class="lb" transform="translate(538.10 257.00) matrix(1.0 0.002 0 1 0 0)" text-anchor="middle" style="font-size:9.3px">Time</text>
<text class="tt" transform="translate(538.30 6.80) matrix(0.955 0.002 0 1 0 0)" text-anchor="middle">Proposed Method</text>
<text class="lb" transform="translate(366.00 132.6) rotate(-90) matrix(1.0 0.002 0 1 0 0)">E<tspan dx="0.4" dy="4.3" font-size="7.9">m</tspan><tspan dy="-4.3">(t)</tspan></text>
<g clip-path="url(#cr)">
<path class="cv" stroke="#ff0000" d="M397.51 209.59 L397.73 210.50 L398.01 211.40 L398.33 212.29 L398.70 213.17 L399.11 214.03 L399.57 214.88 L400.06 215.71 L400.59 216.52 L401.16 217.30 L401.77 218.05 L402.40 218.78 L403.07 219.47 L403.76 220.14 L404.48 220.76 L405.22 221.35 L405.98 221.89 L406.77 222.40 L407.57 222.85 L408.39 223.26 L409.22 223.62 L410.06 223.92 L410.92 224.18 L411.78 224.37 L412.64 224.50 L413.52 224.57 L414.39 224.58 L415.26 224.52 L416.14 224.42 L417.02 224.26 L417.89 224.05 L418.77 223.80 L419.65 223.51 L420.53 223.19 L421.40 222.84 L422.28 222.46 L423.15 222.07 L424.03 221.65 L424.90 221.22 L425.77 220.78 L426.63 220.34 L427.49 219.90 L428.35 219.46 L429.21 219.01 L430.06 218.57 L430.91 218.12 L431.76 217.68 L432.60 217.23 L433.44 216.77 L434.27 216.32 L435.10 215.86 L435.92 215.40 L436.74 214.94 L437.56 214.47 L438.37 214.00 L439.17 213.52 L439.97 213.04 L440.76 212.55 L441.55 212.06 L442.33 211.56 L443.11 211.06 L443.88 210.55 L444.64 210.03 L445.40 209.50 L446.15 208.97 L446.89 208.43 L447.63 207.88 L448.35 207.32 L449.08 206.76 L449.79 206.18 L450.50 205.59 L451.19 205.00 L451.88 204.39 L452.57 203.78 L453.24 203.15 L453.91 202.52 L454.57 201.88 L455.22 201.22 L455.86 200.56 L456.50 199.89 L457.13 199.21 L457.75 198.53 L458.37 197.83 L458.98 197.13 L459.58 196.42 L460.17 195.71 L460.76 194.99 L461.34 194.26 L461.92 193.52 L462.49 192.78 L463.05 192.04 L463.61 191.29 L464.16 190.53 L464.70 189.77 L465.24 189.00 L465.77 188.23 L466.30 187.46 L466.82 186.68 L467.34 185.90 L467.85 185.11 L468.36 184.32 L468.86 183.53 L469.35 182.74 L469.85 181.94 L470.33 181.15 L470.81 180.35 L471.29 179.54 L471.76 178.74 L472.23 177.93 L472.69 177.12 L473.15 176.31 L473.60 175.50 L474.05 174.68 L474.50 173.86 L474.94 173.04 L475.38 172.22 L475.81 171.40 L476.24 170.57 L476.66 169.74 L477.08 168.92 L477.50 168.08 L477.91 167.25 L478.32 166.42 L478.72 165.58 L479.12 164.74 L479.52 163.90 L479.91 163.06 L480.30 162.21 L480.69 161.37 L481.07 160.52 L481.45 159.67 L481.83 158.82 L482.20 157.97 L482.57 157.12 L482.94 156.27 L483.31 155.41 L483.67 154.55 L484.03 153.69 L484.38 152.83 L484.73 151.97 L485.08 151.11 L485.43 150.25 L485.77 149.38 L486.12 148.52 L486.45 147.65 L486.79 146.78 L487.12 145.91 L487.46 145.04 L487.79 144.17 L488.11 143.30 L488.44 142.42 L488.76 141.55 L489.08 140.67 L489.40 139.80 L489.72 138.92 L490.03 138.04 L490.35 137.17 L490.66 136.29 L490.97 135.41 L491.27 134.52 L491.58 133.64 L491.88 132.76 L492.19 131.88 L492.49 131.00 L492.79 130.11 L493.09 129.23 L493.39 128.34 L493.68 127.46 L493.98 126.57 L494.27 125.69 L494.57 124.80 L494.86 123.91 L495.15 123.03 L495.44 122.14 L495.73 121.25 L496.02 120.36 L496.31 119.47 L496.60 118.59 L496.88 117.70 L497.17 116.81 L497.45 115.92 L497.74 115.03 L498.03 114.14 L498.31 113.26 L498.60 112.37 L498.88 111.48 L499.16 110.59 L499.45 109.70 L499.73 108.81 L500.02 107.92 L500.30 107.04 L500.59 106.15 L500.87 105.26 L501.15 104.37 L501.44 103.48 L501.72 102.60 L502.01 101.71 L502.29 100.82 L502.58 99.94 L502.87 99.05 L503.15 98.16 L503.44 97.28 L503.73 96.39 L504.02 95.51 L504.31 94.62 L504.60 93.74 L504.89 92.85 L505.18 91.97 L505.47 91.09 L505.76 90.20 L506.05 89.32 L506.35 88.44 L506.64 87.56 L506.94 86.67 L507.24 85.79 L507.54 84.91 L507.84 84.03 L508.14 83.15 L508.44 82.28 L508.74 81.40 L509.05 80.52 L509.36 79.64 L509.66 78.77 L509.97 77.89 L510.28 77.02 L510.60 76.14 L510.91 75.27 L511.23 74.39 L511.54 73.52 L511.86 72.65 L512.18 71.78 L512.50 70.91 L512.83 70.04 L513.15 69.17 L513.48 68.30 L513.81 67.44 L514.15 66.57 L514.48 65.71 L514.82 64.84 L515.16 63.98 L515.50 63.12 L515.84 62.25 L516.18 61.39 L516.53 60.53 L516.88 59.68 L517.23 58.82 L517.59 57.96 L517.95 57.11 L518.31 56.25 L518.67 55.40 L519.04 54.54 L519.40 53.69 L519.77 52.84 L520.15 51.99 L520.53 51.14 L520.90 50.30 L521.29 49.45 L521.67 48.61 L522.06 47.76 L522.45 46.92 L522.85 46.08 L523.24 45.24 L523.64 44.40 L524.05 43.56 L524.46 42.73 L524.87 41.89 L525.28 41.06 L525.70 40.23 L526.12 39.40 L526.54 38.57 L526.97 37.74 L527.42 36.92 L527.87 36.11 L528.34 35.30 L528.83 34.50 L529.33 33.71 L529.87 32.94 L530.43 32.18 L531.02 31.44 L531.64 30.71 L532.30 30.00 L532.99 29.32 L533.71 28.67 L534.46 28.07 L535.23 27.51 L536.03 27.00 L536.85 26.56 L537.68 26.20 L538.52 25.91 L539.37 25.70 L540.23 25.59 L541.09 25.59 L541.96 25.68 L542.82 25.86 L543.67 26.12 L544.52 26.47 L545.35 26.88 L546.17 27.36 L546.97 27.89 L547.75 28.47 L548.51 29.09 L549.24 29.75 L549.94 30.43 L550.61 31.13 L551.24 31.85 L551.85 32.58 L552.44 33.32 L553.02 34.07 L553.58 34.83 L554.13 35.59 L554.68 36.35 L555.22 37.12 L555.76 37.89 L556.29 38.65 L556.81 39.42 L557.33 40.20 L557.85 40.97 L558.36 41.75 L558.86 42.53 L559.36 43.31 L559.86 44.09 L560.35 44.88 L560.84 45.66 L561.32 46.45 L561.80 47.24 L562.28 48.03 L562.75 48.83 L563.22 49.62 L563.68 50.42 L564.14 51.22 L564.60 52.02 L565.06 52.82 L565.51 53.62 L565.96 54.42 L566.41 55.23 L566.86 56.04 L567.30 56.84 L567.74 57.65 L568.18 58.46 L568.61 59.27 L569.05 60.09 L569.48 60.90 L569.91 61.72 L570.35 62.53 L570.77 63.35 L571.20 64.17 L571.63 64.99 L572.06 65.81 L572.48 66.63 L572.91 67.45 L573.33 68.28 L573.76 69.10 L574.18 69.92 L574.60 70.75 L575.03 71.58 L575.45 72.40 L575.88 73.23 L576.30 74.06 L576.73 74.89 L577.15 75.71 L577.58 76.54 L578.01 77.37 L578.44 78.20 L578.87 79.03 L579.30 79.86 L579.74 80.69 L580.17 81.52 L580.61 82.35 L581.05 83.18 L581.49 84.00 L581.93 84.83 L582.38 85.65 L582.83 86.48 L583.28 87.30 L583.73 88.12 L584.19 88.94 L584.65 89.76 L585.11 90.57 L585.58 91.39 L586.04 92.20 L586.52 93.01 L586.99 93.82 L587.47 94.62 L587.96 95.42 L588.44 96.22 L588.93 97.02 L589.43 97.81 L589.93 98.60 L590.43 99.39 L590.94 100.18 L591.46 100.96 L591.97 101.73 L592.50 102.51 L593.03 103.27 L593.56 104.04 L594.10 104.80 L594.64 105.56 L595.19 106.31 L595.75 107.06 L596.31 107.80 L596.88 108.54 L597.45 109.27 L598.03 110.00 L598.62 110.72 L599.21 111.44 L599.81 112.15 L600.41 112.86 L601.03 113.56 L601.65 114.25 L602.27 114.94 L602.90 115.63 L603.54 116.30 L604.19 116.97 L604.84 117.64 L605.50 118.29 L606.16 118.94 L606.83 119.59 L607.51 120.22 L608.20 120.85 L608.89 121.47 L609.58 122.09 L610.28 122.69 L610.99 123.29 L611.71 123.88 L612.43 124.46 L613.15 125.04 L613.89 125.60 L614.62 126.16 L615.37 126.71 L616.12 127.25 L616.87 127.78 L617.64 128.31 L618.40 128.82 L619.18 129.32 L619.96 129.82 L620.74 130.30 L621.53 130.78 L622.33 131.24 L623.13 131.70 L623.93 132.14 L624.75 132.58 L625.56 133.00 L626.39 133.42 L627.21 133.82 L628.05 134.22 L628.89 134.60 L629.73 134.97 L630.58 135.33 L631.43 135.68 L632.29 136.01 L633.16 136.34 L634.03 136.65 L634.90 136.96 L635.78 137.25 L636.66 137.52 L637.55 137.79 L638.45 138.04 L639.35 138.28 L640.25 138.51 L641.16 138.73 L642.07 138.93 L642.99 139.12 L643.91 139.29 L644.84 139.46 L645.77 139.61 L646.70 139.75 L647.64 139.88 L648.58 139.99 L649.52 140.10 L650.47 140.20 L651.42 140.29 L652.36 140.37 L653.32 140.45 L654.27 140.52 L655.22 140.58 L656.17 140.63 L657.13 140.68 L658.08 140.73 L659.04 140.77 L659.99 140.81 L660.94 140.84 L661.89 140.88 L662.84 140.91 L663.79 140.94 L664.73 140.97 L665.67 141.00 L666.61 141.03 L667.54 141.06 L668.48 141.09 L669.40 141.12 L670.33 141.16 L671.25 141.20 L672.16 141.25 L673.07 141.30 L673.97 141.36 L674.87 141.42 L675.76 141.48 L676.65 141.56 L677.53 141.64 L678.40 141.73"/>
<path class="cv" stroke="#000000" d="M397.50 209.57 L397.73 210.47 L398.00 211.35 L398.30 212.21 L398.64 213.05 L399.01 213.87 L399.41 214.66 L399.84 215.43 L400.30 216.17 L400.79 216.89 L401.31 217.58 L401.85 218.24 L402.41 218.86 L403.00 219.46 L403.61 220.03 L404.24 220.56 L404.89 221.05 L405.56 221.51 L406.24 221.94 L406.94 222.33 L407.65 222.67 L408.38 222.98 L409.12 223.25 L409.87 223.47 L410.63 223.66 L411.40 223.79 L412.17 223.89 L412.96 223.96 L413.75 223.98 L414.54 223.97 L415.34 223.94 L416.15 223.87 L416.95 223.78 L417.76 223.66 L418.58 223.53 L419.39 223.37 L420.21 223.20 L421.02 223.02 L421.84 222.82 L422.65 222.62 L423.46 222.41 L424.27 222.19 L425.08 221.97 L425.89 221.73 L426.69 221.50 L427.49 221.25 L428.29 221.00 L429.09 220.74 L429.88 220.47 L430.68 220.20 L431.47 219.92 L432.25 219.64 L433.04 219.34 L433.82 219.05 L434.60 218.74 L435.38 218.43 L436.15 218.11 L436.93 217.79 L437.70 217.46 L438.46 217.12 L439.23 216.78 L439.99 216.43 L440.74 216.07 L441.50 215.71 L442.25 215.34 L443.00 214.97 L443.74 214.59 L444.49 214.20 L445.22 213.81 L445.96 213.41 L446.69 213.01 L447.42 212.60 L448.14 212.18 L448.87 211.76 L449.58 211.34 L450.30 210.90 L451.01 210.47 L451.71 210.02 L452.41 209.57 L453.11 209.12 L453.81 208.66 L454.50 208.19 L455.18 207.72 L455.87 207.25 L456.54 206.76 L457.22 206.28 L457.89 205.79 L458.55 205.29 L459.21 204.79 L459.87 204.28 L460.52 203.76 L461.17 203.25 L461.81 202.72 L462.45 202.20 L463.08 201.66 L463.71 201.13 L464.33 200.58 L464.95 200.03 L465.57 199.48 L466.17 198.93 L466.78 198.36 L467.38 197.80 L467.97 197.23 L468.56 196.65 L469.14 196.07 L469.72 195.49 L470.30 194.90 L470.87 194.30 L471.43 193.71 L471.99 193.10 L472.55 192.50 L473.10 191.89 L473.65 191.27 L474.19 190.66 L474.73 190.03 L475.26 189.41 L475.79 188.78 L476.32 188.15 L476.84 187.51 L477.36 186.87 L477.87 186.22 L478.38 185.58 L478.89 184.93 L479.39 184.27 L479.89 183.61 L480.38 182.95 L480.87 182.29 L481.36 181.62 L481.84 180.95 L482.32 180.28 L482.80 179.60 L483.27 178.92 L483.74 178.24 L484.20 177.56 L484.66 176.87 L485.12 176.18 L485.58 175.49 L486.03 174.79 L486.48 174.10 L486.93 173.40 L487.37 172.69 L487.81 171.99 L488.25 171.28 L488.68 170.57 L489.11 169.86 L489.54 169.15 L489.97 168.43 L490.39 167.72 L490.81 167.00 L491.23 166.28 L491.64 165.55 L492.05 164.83 L492.46 164.10 L492.87 163.38 L493.28 162.65 L493.68 161.92 L494.08 161.19 L494.48 160.45 L494.87 159.72 L495.27 158.98 L495.66 158.24 L496.05 157.51 L496.44 156.77 L496.82 156.03 L497.21 155.29 L497.59 154.54 L497.97 153.80 L498.35 153.06 L498.73 152.31 L499.10 151.57 L499.48 150.82 L499.85 150.08 L500.22 149.33 L500.59 148.58 L500.95 147.83 L501.32 147.08 L501.68 146.33 L502.05 145.58 L502.41 144.83 L502.77 144.08 L503.13 143.32 L503.48 142.57 L503.84 141.81 L504.19 141.06 L504.55 140.31 L504.90 139.55 L505.25 138.79 L505.60 138.04 L505.95 137.28 L506.30 136.52 L506.64 135.77 L506.99 135.01 L507.34 134.25 L507.68 133.49 L508.02 132.73 L508.36 131.97 L508.71 131.21 L509.05 130.45 L509.39 129.69 L509.73 128.93 L510.06 128.17 L510.40 127.41 L510.74 126.65 L511.08 125.89 L511.41 125.13 L511.75 124.36 L512.08 123.60 L512.42 122.84 L512.75 122.08 L513.09 121.32 L513.42 120.56 L513.75 119.79 L514.09 119.03 L514.42 118.27 L514.75 117.51 L515.08 116.75 L515.42 115.99 L515.75 115.23 L516.08 114.47 L516.41 113.70 L516.74 112.94 L517.08 112.18 L517.41 111.42 L517.74 110.66 L518.07 109.90 L518.40 109.14 L518.74 108.38 L519.07 107.63 L519.40 106.87 L519.74 106.11 L520.07 105.35 L520.40 104.59 L520.74 103.84 L521.07 103.08 L521.41 102.33 L521.74 101.57 L522.08 100.81 L522.42 100.06 L522.75 99.31 L523.09 98.55 L523.43 97.80 L523.77 97.05 L524.11 96.30 L524.45 95.55 L524.79 94.79 L525.13 94.05 L525.48 93.30 L525.82 92.55 L526.16 91.80 L526.51 91.05 L526.86 90.31 L527.20 89.56 L527.55 88.82 L527.90 88.07 L528.25 87.33 L528.61 86.59 L528.96 85.85 L529.31 85.11 L529.67 84.37 L530.03 83.63 L530.39 82.90 L530.74 82.16 L531.11 81.42 L531.47 80.69 L531.83 79.96 L532.20 79.22 L532.57 78.49 L532.94 77.76 L533.31 77.03 L533.68 76.31 L534.06 75.58 L534.44 74.86 L534.82 74.13 L535.21 73.41 L535.60 72.69 L535.99 71.97 L536.39 71.25 L536.79 70.53 L537.20 69.81 L537.61 69.10 L538.03 68.38 L538.45 67.67 L538.87 66.96 L539.30 66.24 L539.74 65.54 L540.18 64.83 L540.63 64.12 L541.08 63.42 L541.54 62.71 L542.01 62.01 L542.48 61.31 L542.96 60.61 L543.44 59.91 L543.94 59.21 L544.44 58.52 L544.95 57.83 L545.46 57.13 L545.99 56.45 L546.52 55.77 L547.06 55.09 L547.61 54.42 L548.18 53.77 L548.75 53.12 L549.33 52.49 L549.92 51.87 L550.52 51.26 L551.14 50.68 L551.76 50.11 L552.40 49.56 L553.05 49.03 L553.71 48.53 L554.39 48.05 L555.07 47.59 L555.78 47.17 L556.49 46.77 L557.22 46.40 L557.97 46.06 L558.72 45.76 L559.49 45.49 L560.26 45.26 L561.05 45.07 L561.84 44.91 L562.63 44.80 L563.43 44.73 L564.23 44.71 L565.03 44.74 L565.84 44.80 L566.64 44.91 L567.44 45.06 L568.23 45.24 L569.03 45.46 L569.82 45.72 L570.61 46.01 L571.39 46.32 L572.17 46.67 L572.94 47.04 L573.70 47.44 L574.46 47.86 L575.21 48.30 L575.94 48.76 L576.67 49.24 L577.39 49.73 L578.10 50.24 L578.79 50.76 L579.47 51.29 L580.14 51.83 L580.79 52.37 L581.43 52.92 L582.06 53.48 L582.68 54.04 L583.29 54.61 L583.89 55.18 L584.48 55.76 L585.07 56.34 L585.65 56.93 L586.22 57.51 L586.79 58.10 L587.36 58.69 L587.92 59.29 L588.48 59.88 L589.04 60.48 L589.60 61.08 L590.15 61.68 L590.71 62.28 L591.26 62.88 L591.81 63.48 L592.36 64.09 L592.91 64.69 L593.45 65.30 L594.00 65.91 L594.54 66.52 L595.09 67.13 L595.63 67.74 L596.17 68.36 L596.71 68.97 L597.25 69.59 L597.79 70.21 L598.33 70.83 L598.87 71.45 L599.41 72.07 L599.94 72.69 L600.48 73.32 L601.02 73.94 L601.56 74.57 L602.10 75.19 L602.64 75.82 L603.18 76.45 L603.72 77.08 L604.26 77.71 L604.80 78.34 L605.34 78.97 L605.89 79.60 L606.43 80.23 L606.97 80.85 L607.52 81.48 L608.07 82.11 L608.61 82.74 L609.16 83.37 L609.71 83.99 L610.26 84.62 L610.82 85.24 L611.37 85.87 L611.93 86.49 L612.48 87.11 L613.04 87.73 L613.60 88.35 L614.16 88.96 L614.73 89.58 L615.29 90.19 L615.86 90.80 L616.43 91.41 L617.00 92.02 L617.58 92.62 L618.15 93.22 L618.73 93.82 L619.31 94.42 L619.90 95.01 L620.48 95.60 L621.07 96.19 L621.66 96.78 L622.26 97.36 L622.86 97.94 L623.46 98.51 L624.06 99.08 L624.67 99.65 L625.27 100.21 L625.89 100.77 L626.50 101.33 L627.12 101.88 L627.74 102.43 L628.37 102.97 L629.00 103.51 L629.63 104.04 L630.27 104.57 L630.91 105.10 L631.55 105.62 L632.20 106.13 L632.85 106.64 L633.50 107.14 L634.16 107.65 L634.83 108.14 L635.49 108.63 L636.16 109.12 L636.83 109.60 L637.51 110.07 L638.19 110.55 L638.87 111.01 L639.56 111.47 L640.25 111.93 L640.94 112.39 L641.63 112.83 L642.33 113.28 L643.03 113.72 L643.74 114.15 L644.44 114.58 L645.15 115.01 L645.87 115.43 L646.58 115.85 L647.30 116.26 L648.02 116.67 L648.75 117.07 L649.47 117.47 L650.20 117.87 L650.93 118.26 L651.67 118.65 L652.40 119.03 L653.14 119.41 L653.88 119.78 L654.63 120.16 L655.37 120.52 L656.12 120.88 L656.87 121.24 L657.62 121.60 L658.37 121.95 L659.13 122.29 L659.89 122.64 L660.65 122.97 L661.41 123.31 L662.17 123.64 L662.94 123.97 L663.70 124.29 L664.47 124.61 L665.24 124.92 L666.01 125.24 L666.79 125.54 L667.56 125.85 L668.34 126.15 L669.11 126.44 L669.89 126.74 L670.67 127.03 L671.45 127.31 L672.24 127.60 L673.02 127.87 L673.80 128.15 L674.59 128.42 L675.38 128.69 L676.16 128.95 L676.95 129.22 L677.74 129.47 L678.53 129.73"/>
<path class="cv" stroke="#0000ff" d="M397.49 209.56 L397.72 210.44 L397.98 211.29 L398.27 212.12 L398.58 212.91 L398.92 213.68 L399.29 214.42 L399.68 215.13 L400.10 215.81 L400.54 216.46 L401.00 217.09 L401.48 217.68 L401.98 218.25 L402.50 218.79 L403.03 219.29 L403.59 219.77 L404.16 220.22 L404.75 220.64 L405.35 221.03 L405.96 221.40 L406.59 221.73 L407.23 222.03 L407.88 222.31 L408.54 222.55 L409.20 222.76 L409.88 222.95 L410.56 223.10 L411.25 223.23 L411.94 223.33 L412.64 223.40 L413.34 223.44 L414.05 223.47 L414.76 223.47 L415.48 223.45 L416.19 223.41 L416.92 223.36 L417.64 223.29 L418.37 223.20 L419.10 223.11 L419.83 223.00 L420.56 222.89 L421.29 222.76 L422.03 222.63 L422.76 222.50 L423.49 222.36 L424.23 222.22 L424.96 222.07 L425.69 221.92 L426.42 221.76 L427.16 221.60 L427.89 221.44 L428.62 221.28 L429.35 221.10 L430.08 220.93 L430.81 220.75 L431.54 220.57 L432.27 220.38 L433.00 220.19 L433.72 220.00 L434.45 219.80 L435.18 219.60 L435.90 219.39 L436.63 219.18 L437.35 218.97 L438.07 218.75 L438.79 218.53 L439.51 218.30 L440.23 218.07 L440.95 217.84 L441.67 217.60 L442.38 217.36 L443.10 217.11 L443.81 216.86 L444.52 216.61 L445.23 216.35 L445.94 216.09 L446.65 215.82 L447.36 215.55 L448.06 215.28 L448.76 215.00 L449.46 214.72 L450.16 214.43 L450.86 214.14 L451.56 213.85 L452.25 213.55 L452.94 213.25 L453.63 212.95 L454.32 212.64 L455.01 212.33 L455.69 212.01 L456.37 211.69 L457.05 211.37 L457.73 211.04 L458.41 210.70 L459.08 210.37 L459.75 210.03 L460.42 209.68 L461.09 209.34 L461.75 208.98 L462.41 208.63 L463.07 208.27 L463.73 207.91 L464.38 207.54 L465.03 207.17 L465.68 206.79 L466.32 206.41 L466.97 206.03 L467.61 205.64 L468.24 205.25 L468.88 204.86 L469.51 204.46 L470.13 204.06 L470.76 203.65 L471.38 203.24 L472.00 202.82 L472.61 202.41 L473.23 201.98 L473.84 201.56 L474.44 201.13 L475.04 200.69 L475.64 200.26 L476.24 199.82 L476.83 199.37 L477.42 198.92 L478.00 198.47 L478.59 198.01 L479.17 197.55 L479.74 197.09 L480.31 196.62 L480.88 196.15 L481.45 195.68 L482.01 195.20 L482.57 194.72 L483.13 194.24 L483.69 193.75 L484.24 193.26 L484.79 192.76 L485.33 192.27 L485.88 191.77 L486.42 191.26 L486.95 190.76 L487.49 190.25 L488.02 189.73 L488.55 189.22 L489.07 188.70 L489.60 188.18 L490.12 187.65 L490.64 187.13 L491.15 186.59 L491.66 186.06 L492.17 185.53 L492.68 184.99 L493.19 184.45 L493.69 183.90 L494.19 183.36 L494.69 182.81 L495.18 182.26 L495.68 181.70 L496.17 181.15 L496.66 180.59 L497.14 180.02 L497.63 179.46 L498.11 178.90 L498.59 178.33 L499.07 177.76 L499.54 177.18 L500.01 176.61 L500.48 176.03 L500.95 175.45 L501.42 174.87 L501.88 174.29 L502.35 173.70 L502.81 173.12 L503.27 172.53 L503.72 171.94 L504.18 171.35 L504.63 170.75 L505.08 170.16 L505.53 169.56 L505.98 168.96 L506.42 168.36 L506.87 167.75 L507.31 167.15 L507.75 166.54 L508.19 165.94 L508.63 165.33 L509.06 164.72 L509.50 164.11 L509.93 163.49 L510.36 162.88 L510.79 162.26 L511.22 161.65 L511.64 161.03 L512.07 160.41 L512.49 159.79 L512.91 159.17 L513.33 158.55 L513.75 157.92 L514.17 157.30 L514.59 156.67 L515.00 156.05 L515.42 155.42 L515.83 154.79 L516.24 154.16 L516.66 153.53 L517.07 152.90 L517.47 152.27 L517.88 151.64 L518.29 151.01 L518.69 150.37 L519.10 149.74 L519.50 149.11 L519.91 148.47 L520.31 147.84 L520.71 147.20 L521.11 146.57 L521.51 145.93 L521.91 145.29 L522.30 144.66 L522.70 144.02 L523.10 143.38 L523.49 142.75 L523.89 142.11 L524.28 141.47 L524.68 140.84 L525.07 140.20 L525.46 139.56 L525.85 138.93 L526.25 138.29 L526.64 137.65 L527.03 137.02 L527.42 136.38 L527.81 135.74 L528.20 135.11 L528.59 134.47 L528.97 133.84 L529.36 133.20 L529.75 132.57 L530.14 131.93 L530.53 131.30 L530.91 130.67 L531.30 130.03 L531.69 129.40 L532.07 128.77 L532.46 128.13 L532.85 127.50 L533.23 126.87 L533.62 126.24 L534.00 125.60 L534.39 124.97 L534.78 124.34 L535.16 123.71 L535.55 123.08 L535.93 122.44 L536.32 121.81 L536.70 121.18 L537.09 120.55 L537.48 119.92 L537.86 119.29 L538.25 118.66 L538.63 118.02 L539.02 117.39 L539.41 116.76 L539.79 116.13 L540.18 115.50 L540.57 114.87 L540.96 114.24 L541.34 113.61 L541.73 112.97 L542.12 112.34 L542.51 111.71 L542.90 111.08 L543.29 110.45 L543.67 109.81 L544.06 109.18 L544.45 108.55 L544.85 107.92 L545.24 107.28 L545.63 106.65 L546.02 106.02 L546.41 105.38 L546.81 104.75 L547.20 104.12 L547.59 103.48 L547.99 102.85 L548.38 102.21 L548.78 101.58 L549.18 100.94 L549.57 100.30 L549.97 99.67 L550.37 99.03 L550.77 98.40 L551.17 97.76 L551.57 97.12 L551.97 96.48 L552.37 95.84 L552.77 95.20 L553.18 94.57 L553.58 93.93 L553.99 93.29 L554.40 92.65 L554.80 92.01 L555.22 91.37 L555.63 90.74 L556.04 90.10 L556.46 89.47 L556.88 88.83 L557.30 88.20 L557.72 87.58 L558.15 86.95 L558.58 86.33 L559.01 85.71 L559.44 85.09 L559.88 84.47 L560.32 83.86 L560.77 83.25 L561.22 82.65 L561.67 82.05 L562.13 81.46 L562.59 80.86 L563.06 80.28 L563.53 79.70 L564.01 79.12 L564.49 78.55 L564.97 77.99 L565.46 77.43 L565.96 76.87 L566.46 76.33 L566.97 75.79 L567.48 75.25 L568.00 74.72 L568.53 74.21 L569.06 73.69 L569.60 73.19 L570.14 72.69 L570.69 72.20 L571.25 71.72 L571.82 71.25 L572.39 70.78 L572.97 70.33 L573.56 69.88 L574.15 69.45 L574.76 69.02 L575.37 68.60 L575.99 68.19 L576.61 67.80 L577.25 67.41 L577.89 67.03 L578.54 66.67 L579.20 66.31 L579.86 65.97 L580.53 65.64 L581.21 65.32 L581.89 65.01 L582.58 64.72 L583.27 64.44 L583.97 64.17 L584.67 63.91 L585.37 63.67 L586.08 63.44 L586.80 63.22 L587.52 63.02 L588.24 62.83 L588.96 62.66 L589.69 62.50 L590.42 62.35 L591.15 62.22 L591.89 62.11 L592.62 62.01 L593.36 61.93 L594.10 61.86 L594.84 61.81 L595.58 61.78 L596.32 61.76 L597.05 61.76 L597.79 61.78 L598.53 61.81 L599.27 61.86 L600.01 61.94 L600.74 62.02 L601.48 62.13 L602.21 62.25 L602.94 62.39 L603.67 62.55 L604.39 62.72 L605.12 62.90 L605.84 63.10 L606.56 63.32 L607.28 63.54 L608.00 63.78 L608.71 64.03 L609.42 64.29 L610.13 64.57 L610.83 64.85 L611.53 65.14 L612.23 65.45 L612.93 65.76 L613.62 66.08 L614.31 66.40 L614.99 66.74 L615.68 67.07 L616.35 67.42 L617.03 67.77 L617.70 68.13 L618.36 68.49 L619.03 68.85 L619.69 69.22 L620.34 69.59 L620.99 69.96 L621.64 70.34 L622.29 70.72 L622.93 71.11 L623.57 71.49 L624.20 71.88 L624.84 72.27 L625.47 72.67 L626.09 73.07 L626.72 73.47 L627.34 73.87 L627.97 74.27 L628.59 74.68 L629.20 75.09 L629.82 75.49 L630.44 75.91 L631.05 76.32 L631.66 76.73 L632.28 77.15 L632.89 77.56 L633.50 77.98 L634.11 78.40 L634.72 78.82 L635.32 79.23 L635.93 79.65 L636.54 80.07 L637.15 80.49 L637.76 80.91 L638.37 81.33 L638.98 81.75 L639.59 82.17 L640.20 82.59 L640.82 83.01 L641.43 83.43 L642.04 83.84 L642.66 84.26 L643.28 84.68 L643.90 85.09 L644.51 85.50 L645.13 85.92 L645.76 86.33 L646.38 86.74 L647.00 87.15 L647.63 87.56 L648.25 87.97 L648.88 88.38 L649.50 88.79 L650.13 89.19 L650.76 89.60 L651.39 90.00 L652.02 90.40 L652.65 90.80 L653.29 91.21 L653.92 91.60 L654.55 92.00 L655.19 92.40 L655.83 92.80 L656.46 93.19 L657.10 93.58 L657.74 93.98 L658.38 94.37 L659.02 94.76 L659.66 95.15 L660.30 95.53 L660.94 95.92 L661.59 96.30 L662.23 96.69 L662.87 97.07 L663.52 97.45 L664.16 97.83 L664.81 98.20 L665.46 98.58 L666.11 98.95 L666.75 99.32 L667.40 99.70 L668.05 100.06 L668.70 100.43 L669.35 100.80 L670.00 101.16 L670.66 101.52 L671.31 101.89 L671.96 102.24 L672.62 102.60 L673.27 102.96 L673.92 103.31 L674.58 103.66 L675.23 104.01 L675.89 104.36 L676.55 104.71 L677.20 105.05 L677.86 105.39 L678.52 105.74"/>
<path class="cv" stroke="#00ff00" d="M397.50 209.58 L397.71 210.34 L397.95 211.07 L398.22 211.78 L398.51 212.47 L398.83 213.13 L399.17 213.78 L399.53 214.40 L399.92 214.99 L400.33 215.57 L400.75 216.12 L401.20 216.64 L401.67 217.15 L402.15 217.63 L402.65 218.09 L403.17 218.53 L403.70 218.94 L404.24 219.34 L404.80 219.71 L405.37 220.06 L405.96 220.38 L406.55 220.68 L407.16 220.97 L407.77 221.23 L408.39 221.46 L409.03 221.68 L409.66 221.87 L410.31 222.04 L410.95 222.19 L411.61 222.32 L412.26 222.42 L412.92 222.51 L413.58 222.58 L414.25 222.62 L414.91 222.65 L415.58 222.67 L416.25 222.67 L416.93 222.66 L417.60 222.63 L418.28 222.59 L418.95 222.55 L419.63 222.49 L420.31 222.43 L420.99 222.37 L421.67 222.29 L422.35 222.22 L423.03 222.14 L423.71 222.06 L424.39 221.98 L425.07 221.90 L425.75 221.81 L426.43 221.72 L427.12 221.63 L427.80 221.54 L428.48 221.45 L429.16 221.35 L429.83 221.25 L430.51 221.15 L431.19 221.05 L431.87 220.94 L432.55 220.83 L433.23 220.72 L433.91 220.61 L434.59 220.50 L435.26 220.38 L435.94 220.26 L436.62 220.14 L437.29 220.02 L437.97 219.89 L438.65 219.76 L439.32 219.63 L440.00 219.50 L440.67 219.36 L441.34 219.23 L442.02 219.09 L442.69 218.94 L443.36 218.80 L444.03 218.65 L444.71 218.50 L445.38 218.35 L446.05 218.19 L446.71 218.03 L447.38 217.87 L448.05 217.71 L448.72 217.55 L449.38 217.38 L450.05 217.21 L450.71 217.04 L451.38 216.86 L452.04 216.68 L452.70 216.50 L453.36 216.32 L454.02 216.13 L454.68 215.94 L455.34 215.75 L456.00 215.56 L456.66 215.36 L457.31 215.16 L457.97 214.96 L458.62 214.76 L459.27 214.55 L459.92 214.34 L460.57 214.12 L461.22 213.91 L461.87 213.69 L462.52 213.47 L463.17 213.24 L463.81 213.02 L464.45 212.79 L465.10 212.55 L465.74 212.32 L466.38 212.08 L467.02 211.84 L467.65 211.59 L468.29 211.34 L468.92 211.09 L469.56 210.84 L470.19 210.58 L470.82 210.33 L471.45 210.06 L472.08 209.80 L472.70 209.53 L473.33 209.26 L473.95 208.98 L474.57 208.71 L475.19 208.43 L475.81 208.14 L476.43 207.86 L477.04 207.57 L477.66 207.27 L478.27 206.98 L478.88 206.68 L479.49 206.38 L480.10 206.07 L480.71 205.77 L481.31 205.46 L481.91 205.14 L482.52 204.83 L483.12 204.51 L483.72 204.19 L484.31 203.86 L484.91 203.54 L485.50 203.21 L486.10 202.87 L486.69 202.54 L487.28 202.20 L487.87 201.86 L488.45 201.52 L489.04 201.17 L489.62 200.82 L490.21 200.47 L490.79 200.12 L491.37 199.76 L491.95 199.40 L492.52 199.04 L493.10 198.68 L493.67 198.31 L494.25 197.94 L494.82 197.57 L495.39 197.20 L495.96 196.82 L496.52 196.45 L497.09 196.07 L497.65 195.68 L498.21 195.30 L498.78 194.91 L499.34 194.52 L499.89 194.13 L500.45 193.73 L501.01 193.34 L501.56 192.94 L502.11 192.54 L502.66 192.14 L503.21 191.73 L503.76 191.32 L504.31 190.91 L504.85 190.50 L505.40 190.09 L505.94 189.67 L506.48 189.25 L507.02 188.83 L507.56 188.41 L508.10 187.99 L508.64 187.56 L509.17 187.14 L509.70 186.71 L510.24 186.27 L510.77 185.84 L511.29 185.41 L511.82 184.97 L512.35 184.53 L512.87 184.09 L513.40 183.65 L513.92 183.20 L514.44 182.76 L514.96 182.31 L515.48 181.86 L516.00 181.41 L516.51 180.96 L517.02 180.50 L517.54 180.05 L518.05 179.59 L518.56 179.13 L519.07 178.67 L519.58 178.20 L520.08 177.74 L520.59 177.28 L521.09 176.81 L521.59 176.34 L522.09 175.87 L522.59 175.40 L523.09 174.93 L523.59 174.45 L524.09 173.98 L524.58 173.50 L525.07 173.02 L525.56 172.54 L526.06 172.06 L526.54 171.58 L527.03 171.09 L527.52 170.61 L528.00 170.12 L528.49 169.64 L528.97 169.15 L529.45 168.66 L529.93 168.17 L530.41 167.67 L530.89 167.18 L531.37 166.69 L531.84 166.19 L532.32 165.70 L532.79 165.20 L533.26 164.70 L533.73 164.20 L534.20 163.70 L534.67 163.20 L535.13 162.70 L535.60 162.19 L536.06 161.69 L536.53 161.18 L536.99 160.68 L537.45 160.17 L537.91 159.66 L538.37 159.15 L538.82 158.65 L539.28 158.14 L539.73 157.62 L540.19 157.11 L540.64 156.60 L541.09 156.09 L541.54 155.57 L541.99 155.06 L542.44 154.54 L542.89 154.03 L543.33 153.51 L543.78 153.00 L544.22 152.48 L544.67 151.96 L545.11 151.44 L545.55 150.92 L545.99 150.40 L546.43 149.88 L546.87 149.36 L547.31 148.84 L547.75 148.32 L548.19 147.80 L548.63 147.28 L549.07 146.75 L549.50 146.23 L549.94 145.71 L550.37 145.18 L550.81 144.66 L551.24 144.14 L551.68 143.61 L552.11 143.09 L552.55 142.56 L552.98 142.04 L553.41 141.51 L553.85 140.99 L554.28 140.46 L554.71 139.93 L555.14 139.41 L555.58 138.88 L556.01 138.36 L556.44 137.83 L556.87 137.30 L557.30 136.78 L557.73 136.25 L558.17 135.73 L558.60 135.20 L559.03 134.67 L559.46 134.15 L559.89 133.62 L560.33 133.10 L560.76 132.57 L561.19 132.04 L561.63 131.52 L562.06 130.99 L562.49 130.47 L562.93 129.94 L563.36 129.42 L563.79 128.89 L564.23 128.37 L564.67 127.85 L565.10 127.32 L565.54 126.80 L565.97 126.28 L566.41 125.76 L566.85 125.23 L567.29 124.71 L567.73 124.19 L568.17 123.67 L568.61 123.15 L569.05 122.63 L569.49 122.11 L569.93 121.59 L570.38 121.07 L570.82 120.55 L571.27 120.04 L571.71 119.52 L572.16 119.00 L572.61 118.49 L573.06 117.97 L573.51 117.46 L573.96 116.95 L574.41 116.43 L574.86 115.92 L575.32 115.41 L575.77 114.90 L576.23 114.39 L576.69 113.88 L577.14 113.37 L577.60 112.87 L578.06 112.36 L578.53 111.85 L578.99 111.35 L579.46 110.85 L579.92 110.34 L580.39 109.84 L580.86 109.34 L581.33 108.84 L581.80 108.34 L582.28 107.84 L582.75 107.34 L583.23 106.85 L583.71 106.35 L584.19 105.86 L584.67 105.37 L585.15 104.88 L585.64 104.38 L586.12 103.90 L586.61 103.41 L587.10 102.92 L587.59 102.43 L588.09 101.95 L588.58 101.47 L589.08 100.98 L589.58 100.50 L590.08 100.02 L590.58 99.55 L591.09 99.07 L591.60 98.59 L592.10 98.12 L592.62 97.65 L593.13 97.18 L593.64 96.71 L594.16 96.25 L594.68 95.78 L595.20 95.32 L595.73 94.86 L596.25 94.41 L596.78 93.95 L597.31 93.51 L597.84 93.06 L598.38 92.61 L598.91 92.17 L599.45 91.74 L599.99 91.30 L600.54 90.87 L601.08 90.45 L601.63 90.03 L602.18 89.61 L602.73 89.20 L603.29 88.79 L603.85 88.38 L604.41 87.98 L604.97 87.59 L605.53 87.20 L606.10 86.81 L606.67 86.43 L607.24 86.06 L607.81 85.69 L608.39 85.33 L608.97 84.97 L609.55 84.62 L610.13 84.27 L610.72 83.93 L611.31 83.60 L611.90 83.27 L612.49 82.95 L613.09 82.63 L613.69 82.32 L614.29 82.02 L614.90 81.73 L615.50 81.44 L616.11 81.16 L616.72 80.89 L617.34 80.62 L617.96 80.37 L618.58 80.12 L619.20 79.88 L619.83 79.64 L620.45 79.42 L621.08 79.20 L621.72 78.99 L622.36 78.79 L623.00 78.60 L623.64 78.42 L624.28 78.24 L624.93 78.08 L625.58 77.92 L626.23 77.77 L626.89 77.63 L627.55 77.50 L628.21 77.38 L628.87 77.26 L629.54 77.16 L630.20 77.06 L630.87 76.97 L631.54 76.89 L632.21 76.81 L632.89 76.74 L633.56 76.68 L634.24 76.63 L634.92 76.58 L635.60 76.55 L636.28 76.51 L636.96 76.49 L637.65 76.47 L638.33 76.46 L639.02 76.46 L639.71 76.46 L640.39 76.47 L641.08 76.48 L641.77 76.50 L642.46 76.53 L643.15 76.56 L643.84 76.60 L644.53 76.65 L645.22 76.70 L645.91 76.76 L646.60 76.82 L647.29 76.89 L647.98 76.96 L648.67 77.04 L649.36 77.12 L650.05 77.21 L650.74 77.30 L651.43 77.40 L652.12 77.50 L652.81 77.61 L653.49 77.72 L654.18 77.83 L654.86 77.95 L655.55 78.08 L656.23 78.20 L656.91 78.34 L657.59 78.47 L658.27 78.61 L658.95 78.75 L659.62 78.90 L660.30 79.05 L660.97 79.20 L661.64 79.36 L662.31 79.52 L662.97 79.68 L663.64 79.85 L664.30 80.02 L664.96 80.19 L665.62 80.36 L666.27 80.54 L666.92 80.72 L667.57 80.90 L668.22 81.08 L668.87 81.27 L669.51 81.45 L670.15 81.64 L670.78 81.83 L671.41 82.03 L672.04 82.22 L672.67 82.41 L673.29 82.61 L673.91 82.81 L674.53 83.01 L675.14 83.21 L675.75 83.41 L676.35 83.61 L676.95 83.81 L677.55 84.02 L678.14 84.22"/>
</g>
<rect x="614.5" y="17.4" width="57" height="42.6" fill="#fff" stroke="#262626" stroke-width="0.55"/>
<ellipse cx="629.80" cy="23.35" rx="1.0" ry="0.85" fill="#ff0000"/>
<text class="lg" transform="translate(644.30 26.85) matrix(0.975 0.002 0 1 0 0)" text-anchor="start"><tspan class="sg">σ</tspan><tspan dx="0.15">=1.0</tspan></text>
<ellipse cx="629.80" cy="33.50" rx="1.0" ry="0.85" fill="#000000"/>
<text class="lg" transform="translate(644.30 37.00) matrix(0.975 0.002 0 1 0 0)" text-anchor="start"><tspan class="sg">σ</tspan><tspan dx="0.15">=0.95</tspan></text>
<ellipse cx="629.80" cy="43.65" rx="1.0" ry="0.85" fill="#0000ff"/>
<text class="lg" transform="translate(644.30 47.15) matrix(0.975 0.002 0 1 0 0)" text-anchor="start"><tspan class="sg">σ</tspan><tspan dx="0.15">=0.90</tspan></text>
<ellipse cx="629.80" cy="53.80" rx="1.0" ry="0.85" fill="#00ff00"/>
<text class="lg" transform="translate(644.30 57.30) matrix(0.975 0.002 0 1 0 0)" text-anchor="start"><tspan class="sg">σ</tspan><tspan dx="0.15">=0.85</tspan></text>
<text class="cp" transform="translate(502.30 277.8) matrix(1 0.002 0 1 0 0)">(b)</text><text class="rho" transform="translate(521.60 277.8) matrix(1 0.002 0 1 0 0)">ρ</text><text class="cp" transform="translate(533.20 277.8) matrix(1 0.002 0 1 0 0)" textLength="10.4" lengthAdjust="spacingAndGlyphs">=</text><text class="cp" transform="translate(547.80 277.8) matrix(1 0.002 0 1 0 0)">0.9</text>
</g></svg>
</body></html>
